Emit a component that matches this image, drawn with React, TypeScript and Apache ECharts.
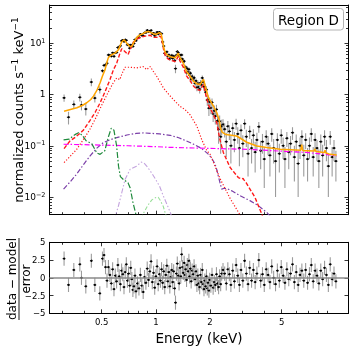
import React, { useEffect, useRef } from "react";
import * as echarts from "echarts";

// ---------- axis ticks ----------
const xMajorTicks = [0.5, 1, 2, 5];
const xMajorLabels = ["0.5", "1", "2", "5"];
const xMinorTicks = [0.3, 0.4, 0.6, 0.7, 0.8, 0.9, 3, 4, 6, 7, 8, 9];
const yMajorTicks = [0.01, 0.1, 1, 10];
const yMajorLabels = ["10{s|−2}", "10{s|−1}", "1", "10{s|1}"];
const yMinorTicks = [
  0.005, 0.006, 0.007, 0.008, 0.009, 0.02, 0.03, 0.04, 0.05, 0.06, 0.07, 0.08, 0.09,
  0.2, 0.3, 0.4, 0.5, 0.6, 0.7, 0.8, 0.9, 2, 3, 4, 5, 6, 7, 8, 9, 20, 30, 40, 50,
];
const residTicks = [-5, -2.5, 0, 2.5, 5];
const residLabels = ["−5", "−2.5", "0", "2.5", "5"];

// ---------- data: low energy ----------
const lowEnergy = [0.309, 0.327, 0.35, 0.378, 0.386, 0.408, 0.438, 0.458, 0.488, 0.505, 0.515];
const lowCounts = [0.86, 0.36, 0.64, 0.88, 0.62, 0.52, 1.75, 0.85, 1.25, 2.9, 3.7];
const lowErr = [0.14, 0.1, 0.12, 0.15, 0.13, 0.13, 0.3, 0.15, 0.2, 0.25, 0.3];
const lowResid = [2.7, -1.0, 1.1, 1.9, 0.0, -1.2, 2.4, -1.0, -2.2, 2.7, 3.2];

// ---------- data: line-rich band ----------
const midEnergy = [
  0.525, 0.535, 0.545, 0.555, 0.565, 0.575, 0.585, 0.595, 0.605, 0.615,
  0.625, 0.635, 0.645, 0.655, 0.665, 0.675, 0.685, 0.695, 0.705, 0.715,
  0.725, 0.735, 0.745, 0.755, 0.765, 0.775, 0.79, 0.805, 0.82, 0.835,
  0.85, 0.865, 0.88, 0.895, 0.91, 0.925, 0.94, 0.955, 0.97, 0.985,
  1.0, 1.015, 1.03, 1.045, 1.06, 1.075, 1.09, 1.105, 1.12, 1.135,
  1.15, 1.165, 1.18, 1.195, 1.21, 1.225, 1.24, 1.255, 1.27, 1.285,
  1.3, 1.315, 1.33, 1.345, 1.36, 1.375, 1.39, 1.405, 1.42, 1.435,
  1.45, 1.465, 1.48, 1.495, 1.51, 1.525, 1.54, 1.555, 1.57, 1.59,
  1.61, 1.63, 1.65, 1.67, 1.69, 1.71, 1.73, 1.75, 1.77, 1.79,
  1.81, 1.83, 1.85, 1.87, 1.89, 1.91, 1.93, 1.95, 1.97, 1.99,
  2.02, 2.05, 2.08, 2.11, 2.14, 2.17, 2.2, 2.23, 2.26, 2.29, 2.32,
];
const midCounts = [
  3.75, 4.06, 5.9, 5.85, 5.6, 6.5, 5.55, 6.5, 6.6, 8.25,
  8.4, 8.9, 11.1, 11.5, 10.8, 11.7, 11.4, 9.3, 9.3, 8.0,
  9.3, 8.7, 8.65, 9.9, 11.8, 11.2, 12.9, 13.05, 15.0, 14.3,
  14.0, 16.1, 16.1, 17.9, 16.8, 17.3, 17.85, 15.15, 15.8, 14.0,
  14.95, 16.4, 15.1, 16.5, 15.5, 15.4, 10.6, 8.8, 6.35, 6.5,
  6.8, 5.6, 5.95, 5.0, 5.45, 5.8, 5.05, 5.6, 4.6, 3.2,
  5.85, 6.9, 6.55, 5.65, 5.9, 5.0, 5.9, 4.9, 4.35, 4.45,
  3.45, 3.4, 2.7, 3.2, 2.8, 3.1, 2.38, 2.6, 2.0, 2.25,
  1.97, 2.12, 1.65, 1.84, 1.38, 1.65, 1.4, 1.27, 1.69, 1.56,
  2.1, 1.74, 1.42, 1.41, 1.11, 1.24, 0.78, 0.8, 0.54, 0.72,
  0.55, 0.7, 0.42, 0.48, 0.38, 0.51, 0.31, 0.21, 0.3, 0.15, 0.24,
];
const midErr = [
  0.3, 0.35, 0.38, 0.4, 0.4, 0.42, 0.4, 0.42, 0.43, 0.48,
  0.5, 0.55, 0.58, 0.6, 0.6, 0.6, 0.58, 0.55, 0.53, 0.52,
  0.52, 0.53, 0.56, 0.6, 0.62, 0.65, 0.68, 0.7, 0.72, 0.73,
  0.74, 0.76, 0.77, 0.78, 0.78, 0.77, 0.76, 0.75, 0.74, 0.73,
  0.73, 0.74, 0.75, 0.76, 0.75, 0.72, 0.62, 0.54, 0.5, 0.47,
  0.46, 0.45, 0.44, 0.43, 0.43, 0.42, 0.42, 0.42, 0.41, 0.6,
  0.43, 0.45, 0.46, 0.45, 0.43, 0.41, 0.4, 0.39, 0.38, 0.36,
  0.34, 0.32, 0.3, 0.3, 0.29, 0.28, 0.27, 0.27, 0.26, 0.25,
  0.24, 0.23, 0.23, 0.22, 0.22, 0.22, 0.22, 0.22, 0.22, 0.23,
  0.24, 0.25, 0.24, 0.22, 0.2, 0.19, 0.18, 0.17, 0.16, 0.15,
  0.14, 0.14, 0.13, 0.13, 0.12, 0.12, 0.11, 0.1, 0.09, 0.08, 0.08,
];
const midResid = [
  1.5, -0.4, 1.5, 0.4, -0.8, 1.2, -1.6, 0.3, -0.5, 1.8,
  0.2, -0.9, 1.0, 0.5, -1.3, 0.8, 1.9, -0.4, 0.6, -1.1,
  1.4, -0.2, -1.7, -1.2, 0.3, -1.9, -0.8, -1.5, 0.4, -1.1,
  -2.0, 0.1, -0.7, 1.3, -0.3, 0.9, 2.3, -0.6, 0.7, -1.4,
  0.2, 1.6, -0.9, 0.5, -0.4, 1.2, -0.7, 0.9, -1.3, 0.4,
  1.7, -0.5, 0.8, -1.2, 0.1, 1.1, -0.6, 0.9, -1.5, -3.5,
  0.6, 2.0, 0.3, -0.8, 1.4, 0.2, 3.3, 1.5, 0.7, 2.1,
  0.4, 1.2, -0.3, 1.8, 0.9, 2.4, 0.2, 1.3, -0.5, 1.0,
  0.5, 1.6, -0.2, 0.9, -1.0, 0.3, -0.8, -1.3, 0.4, -0.6,
  1.1, -0.9, -1.6, -0.4, -1.2, 0.2, -1.5, -0.7, -1.8, -0.3,
  -1.1, 0.4, -1.4, -0.6, -1.0, 0.5, -0.8, -1.3, 0.2, -0.9, 0.6,
];

// ---------- data: hard band ----------
const highEnergy = [
  2.36, 2.41, 2.46, 2.51, 2.56, 2.61, 2.67, 2.73, 2.79, 2.85,
  2.91, 2.97, 3.04, 3.11, 3.18, 3.25, 3.32, 3.4, 3.48, 3.56,
  3.64, 3.73, 3.82, 3.91, 4.0, 4.1, 4.2, 4.3, 4.4, 4.51,
  4.62, 4.73, 4.85, 4.97, 5.09, 5.21, 5.34, 5.47, 5.6, 5.74,
  5.88, 6.02, 6.17, 6.32, 6.47, 6.63, 6.79, 6.96, 7.13, 7.3,
  7.48, 7.66, 7.85, 8.04, 8.24, 8.44, 8.65, 8.86, 9.08, 9.3,
  9.53, 9.76, 10.0,
];
const highCounts = [
  0.26, 0.21, 0.12, 0.24, 0.19, 0.1, 0.22, 0.13, 0.27, 0.17,
  0.09, 0.2, 0.11, 0.27, 0.15, 0.07, 0.19, 0.09, 0.16, 0.075,
  0.13, 0.235, 0.08, 0.12, 0.055, 0.15, 0.11, 0.065, 0.17, 0.09,
  0.05, 0.13, 0.07, 0.16, 0.1, 0.055, 0.14, 0.075, 0.11, 0.18,
  0.06, 0.12, 0.045, 0.1, 0.15, 0.065, 0.13, 0.055, 0.1, 0.17,
  0.06, 0.13, 0.09, 0.05, 0.12, 0.065, 0.15, 0.09, 0.04, 0.15,
  0.06, 0.09, 0.05,
];
const highErr = [
  0.07, 0.065, 0.06, 0.065, 0.06, 0.055, 0.06, 0.055, 0.065, 0.06,
  0.05, 0.06, 0.05, 0.06, 0.055, 0.045, 0.055, 0.045, 0.05, 0.045,
  0.05, 0.055, 0.045, 0.05, 0.04, 0.05, 0.045, 0.04, 0.05, 0.045,
  0.04, 0.045, 0.04, 0.05, 0.045, 0.04, 0.045, 0.04, 0.045, 0.05,
  0.04, 0.045, 0.035, 0.045, 0.05, 0.04, 0.045, 0.035, 0.045, 0.05,
  0.035, 0.045, 0.04, 0.035, 0.045, 0.04, 0.05, 0.04, 0.03, 0.045,
  0.035, 0.04, 0.03,
];
const highResid = [
  1.1, 0.6, -0.8, 1.2, 0.5, -1.0, 1.0, -0.5, 1.8, 0.3,
  -1.0, 1.1, -0.4, 2.4, 0.6, -0.9, 1.4, -0.4, 1.1, -0.6,
  0.6, 2.5, -0.4, 0.5, -1.0, 1.2, 0.4, -0.6, 1.6, 0.0,
  -0.9, 1.0, -0.4, 1.5, 0.3, -0.7, 1.2, -0.2, 0.6, 1.9,
  -0.6, 0.8, -1.0, 0.4, 1.0, -0.4, 1.1, -0.7, 0.5, 1.8,
  -0.5, 1.0, 0.3, -0.8, 1.0, -0.2, 1.4, 0.4, -1.0, 1.9,
  -0.2, 0.6, -0.5,
];
const residErr = 1; // residuals are in units of sigma

// ---------- model components ----------
const totalE = [
  0.309, 0.335, 0.364, 0.39, 0.413, 0.435, 0.45, 0.47, 0.49, 0.505, 0.522, 0.535, 0.545, 0.565,
  0.593, 0.62, 0.645, 0.665, 0.69, 0.715, 0.735, 0.76, 0.79, 0.817, 0.85, 0.88, 0.91, 0.94, 0.97,
  1.0, 1.02, 1.045, 1.07, 1.09, 1.11, 1.13, 1.17, 1.22, 1.28, 1.305, 1.33, 1.36, 1.42, 1.48, 1.55,
  1.62, 1.7, 1.76, 1.81, 1.84, 1.88, 1.96, 2.09, 2.18, 2.25, 2.29, 2.33, 2.45, 2.81, 3.2, 3.63,
  4.13, 4.9, 6.0, 6.38, 6.46, 6.54, 7.5, 7.58, 7.65, 7.72, 8.5, 8.62, 8.7, 8.78, 9.27, 10.1,
];
const totalY = [
  0.47, 0.51, 0.55, 0.61, 0.69, 0.8, 0.93, 1.2, 1.69, 2.3, 3.06, 4.3, 5.3, 5.9,
  6.4, 7.5, 10.5, 11.7, 10.0, 8.6, 8.7, 11.0, 13.4, 14.6, 15.5, 16.6, 17.0, 16.1, 15.3,
  14.8, 15.4, 16.1, 15.2, 11.0, 7.8, 6.5, 5.7, 5.4, 5.2, 5.7, 6.4, 5.3, 4.1, 2.8, 2.27,
  1.8, 1.6, 1.56, 1.85, 1.96, 1.45, 0.86, 0.59, 0.44, 0.31, 0.22, 0.185, 0.165, 0.155, 0.117, 0.099,
  0.092, 0.0855, 0.083, 0.082, 0.105, 0.081, 0.079, 0.079, 0.087, 0.078, 0.074, 0.074, 0.082, 0.073, 0.068, 0.066,
];
const hotE = [
  0.309, 0.333, 0.36, 0.395, 0.43, 0.46, 0.49, 0.52, 0.556, 0.58, 0.606, 0.628, 0.646, 0.67, 0.7,
  0.725, 0.75, 0.8, 0.85, 0.89, 0.93, 0.97, 1.01, 1.04, 1.07, 1.09, 1.11, 1.13, 1.17, 1.22, 1.28,
  1.305, 1.33, 1.36, 1.42, 1.48, 1.55, 1.62, 1.7, 1.76, 1.81, 1.84, 1.88, 1.96, 2.09, 2.18, 2.27,
  2.37, 2.58, 2.87, 3.0, 3.05, 3.1, 3.17, 3.55, 3.87, 4.0,
];
const hotY = [
  0.088, 0.124, 0.15, 0.2, 0.31, 0.45, 0.69, 1.1, 1.96, 3.0, 4.1, 6.0, 7.8, 7.0, 6.0,
  8.0, 10.5, 12.5, 13.5, 14.0, 14.3, 13.0, 13.0, 14.0, 13.2, 9.5, 6.8, 5.6, 4.9, 4.6, 4.4,
  4.9, 5.5, 4.5, 3.4, 2.3, 1.85, 1.45, 1.25, 1.2, 1.45, 1.55, 1.1, 0.62, 0.4, 0.28, 0.13,
  0.074, 0.038, 0.024, 0.0225, 0.023, 0.021, 0.019, 0.0099, 0.0047, 0.0035,
];
const warmE = [
  0.309, 0.335, 0.363, 0.4, 0.43, 0.46, 0.5, 0.55, 0.58, 0.606, 0.63, 0.65, 0.674, 0.72, 0.78,
  0.85, 0.89, 0.93, 0.97, 1.01, 1.06, 1.1, 1.18, 1.25, 1.36, 1.45, 1.55, 1.69, 1.8, 1.92, 2.0,
  2.09, 2.27, 2.58, 2.93, 3.05,
];
const warmY = [
  0.047, 0.063, 0.085, 0.14, 0.21, 0.33, 0.62, 1.2, 1.7, 2.1, 1.95, 2.6, 3.4, 3.4, 3.3,
  3.5, 3.06, 3.5, 2.8, 2.27, 1.7, 1.35, 1.0, 0.8, 0.59, 0.51, 0.4, 0.24, 0.13, 0.08, 0.068,
  0.047, 0.023, 0.0095, 0.0045, 0.0035,
];
const bremE = [
  0.307, 0.335, 0.363, 0.4, 0.43, 0.47, 0.51, 0.56, 0.606, 0.69, 0.78, 0.86, 0.93, 1.05, 1.2,
  1.34, 1.48, 1.62, 1.76, 1.86, 1.96, 2.05, 2.13, 2.18, 2.22, 2.27, 2.32, 2.4, 2.48, 2.64, 2.93,
  3.33, 3.7, 4.13, 4.4,
];
const bremY = [
  0.0143, 0.02, 0.028, 0.045, 0.063, 0.09, 0.115, 0.132, 0.144, 0.162, 0.175, 0.178, 0.175, 0.17, 0.16,
  0.143, 0.124, 0.107, 0.092, 0.08, 0.068, 0.056, 0.044, 0.034, 0.026, 0.019, 0.0143, 0.0148, 0.0146, 0.0132, 0.0106,
  0.0085, 0.0068, 0.005, 0.0039,
];
const powE = [0.307, 0.5, 0.7, 1.0, 1.2, 1.5, 2.0, 2.5, 2.93, 3.5, 4.5, 5.5, 6.9, 8.0, 9.0, 10.1];
const powY = [0.107, 0.103, 0.1, 0.096, 0.093, 0.091, 0.089, 0.087, 0.086, 0.084, 0.08, 0.077, 0.074, 0.07, 0.067, 0.063];
const cxE = [
  0.307, 0.33, 0.355, 0.372, 0.39, 0.41, 0.44, 0.47, 0.49, 0.52, 0.545, 0.565, 0.585, 0.605,
  0.62, 0.635, 0.66, 0.7, 0.72, 0.745, 0.77, 0.79,
];
const cxY = [
  0.13, 0.135, 0.165, 0.18, 0.16, 0.125, 0.11, 0.072, 0.068, 0.08, 0.15, 0.22, 0.2, 0.1,
  0.04, 0.025, 0.022, 0.019, 0.015, 0.008, 0.005, 0.0035,
];
const feE = [0.59, 0.6, 0.62, 0.646, 0.674, 0.72, 0.78, 0.83, 0.86, 0.9, 0.95, 0.99, 1.05, 1.1, 1.16, 1.21, 1.23];
const feY = [0.0035, 0.0046, 0.0068, 0.012, 0.022, 0.035, 0.04, 0.048, 0.046, 0.038, 0.029, 0.023, 0.016, 0.0105, 0.0068, 0.0047, 0.0038];
const neE = [0.83, 0.85, 0.9, 0.95, 1.0, 1.03, 1.06, 1.1, 1.13, 1.15];
const neY = [0.0038, 0.0047, 0.0068, 0.0088, 0.0098, 0.0099, 0.0085, 0.0065, 0.0047, 0.0038];

// ---------- helpers ----------
const lg = (v: number) => Math.log10(v);
const X_MIN = -0.591;
const X_MAX = 1.07;
const Y_MIN = -2.345;
const Y_MAX = 1.746;
const FONT = "DejaVu Sans";

const energy = [...lowEnergy, ...midEnergy, ...highEnergy];
const counts = [...lowCounts, ...midCounts, ...highCounts];
const countErr = [...lowErr, ...midErr, ...highErr];
const resid = [...lowResid, ...midResid, ...highResid];

function nearest(v: number, ticks: number[], labels: string[], useLog: boolean) {
  let best = 0;
  let bd = Infinity;
  ticks.forEach((t, i) => {
    const d = Math.abs((useLog ? lg(t) : t) - v);
    if (d < bd) {
      bd = d;
      best = i;
    }
  });
  return labels[best];
}

const tickLine = { color: "#000", width: 0.8 };
const frameLine = { show: true, onZero: false, lineStyle: { color: "#000", width: 1 } };
const noLine = { show: false, onZero: false };

function xAxis(gridIndex: number, position: string, ticks: number[] | null, len: number, withLabels: boolean, showLine: boolean) {
  return {
    type: "value",
    gridIndex,
    position,
    min: X_MIN,
    max: X_MAX,
    axisLine: showLine ? frameLine : noLine,
    axisTick: ticks
      ? { show: true, inside: true, length: len, customValues: ticks.map(lg), lineStyle: tickLine }
      : { show: false },
    axisLabel: withLabels
      ? {
          show: true,
          customValues: xMajorTicks.map(lg),
          formatter: (v: number) => nearest(v, xMajorTicks, xMajorLabels, true),
          margin: 4,
          color: "#000",
          fontFamily: FONT,
          fontSize: 8.5,
        }
      : { show: false },
    splitLine: { show: false },
  };
}

function yAxisTop(position: string, ticks: number[], len: number, withLabels: boolean, showLine: boolean) {
  return {
    type: "value",
    gridIndex: 0,
    position,
    min: Y_MIN,
    max: Y_MAX,
    axisLine: showLine ? frameLine : noLine,
    axisTick: { show: true, inside: true, length: len, customValues: ticks.map(lg), lineStyle: tickLine },
    axisLabel: withLabels
      ? {
          show: true,
          customValues: yMajorTicks.map(lg),
          formatter: (v: number) => nearest(v, yMajorTicks, yMajorLabels, true),
          margin: 4,
          color: "#000",
          fontFamily: FONT,
          fontSize: 9,
          lineHeight: 12,
          rich: { s: { fontSize: 6.5, lineHeight: 7, verticalAlign: "top", fontFamily: FONT, color: "#000" } },
        }
      : { show: false },
    splitLine: { show: false },
  };
}

function yAxisRes(position: string, withLabels: boolean) {
  return {
    type: "value",
    gridIndex: 1,
    position,
    min: -5,
    max: 5,
    axisLine: frameLine,
    axisTick: { show: true, inside: true, length: 4, customValues: residTicks, lineStyle: tickLine },
    axisLabel: withLabels
      ? {
          show: true,
          customValues: residTicks,
          formatter: (v: number) => nearest(v, residTicks, residLabels, false),
          margin: 4,
          color: "#000",
          fontFamily: FONT,
          fontSize: 8.5,
        }
      : { show: false },
    splitLine: { show: false },
  };
}

function modelLine(xs: number[], ys: number[], color: string, width: number, dash: any) {
  return {
    type: "line",
    xAxisIndex: 0,
    yAxisIndex: 0,
    data: xs.map((e, i) => [lg(e), lg(ys[i])]),
    showSymbol: false,
    symbol: "none",
    silent: true,
    clip: true,
    lineStyle: { color, width, type: dash },
    z: 3,
  };
}

const clampTop = (v: number) => Math.min(Y_MAX, Math.max(Y_MIN, v));

function buildOption() {
  const specData = energy.map((e, i) => [lg(e), lg(counts[i]), counts[i] - countErr[i], counts[i] + countErr[i]]);
  const resData = energy.map((e, i) => [lg(e), resid[i], resid[i] - residErr, resid[i] + residErr]);

  return {
    animation: false,
    textStyle: { fontFamily: FONT },
    grid: [
      { left: 49.5, top: 5, width: 299, height: 209.7 },
      { left: 49.5, top: 242.3, width: 299, height: 71 },
    ],
    xAxis: [
      xAxis(0, "bottom", xMinorTicks, 2.5, false, true),
      xAxis(0, "bottom", xMajorTicks, 4, false, false),
      xAxis(0, "top", null, 0, false, true),
      xAxis(1, "bottom", xMinorTicks, 2.5, false, true),
      xAxis(1, "bottom", xMajorTicks, 4, true, false),
      xAxis(1, "top", xMinorTicks, 2.5, false, true),
      xAxis(1, "top", xMajorTicks, 4, false, false),
    ],
    yAxis: [
      yAxisTop("left", yMajorTicks, 4, true, true),
      yAxisTop("left", yMinorTicks, 2.5, false, false),
      yAxisTop("right", yMajorTicks, 4, false, true),
      yAxisTop("right", yMinorTicks, 2.5, false, false),
      yAxisRes("left", true),
      yAxisRes("right", false),
    ],
    graphic: [
      {
        type: "text",
        x: 18,
        y: 110,
        rotation: Math.PI / 2,
        style: {
          text: "normalized counts s{s|−1} keV{s|−1}",
          fontFamily: FONT,
          fontSize: 13,
          lineHeight: 16,
          fill: "#000",
          align: "center",
          verticalAlign: "middle",
          rich: { s: { fontSize: 9, lineHeight: 9, verticalAlign: "top", fontFamily: FONT, fill: "#000" } },
        },
      },
      {
        type: "group",
        x: 19,
        y: 279,
        rotation: Math.PI / 2,
        children: [
          {
            type: "text",
            x: 0,
            y: -1,
            style: { text: "data − model", fontFamily: FONT, fontSize: 12, fill: "#000", align: "center", verticalAlign: "bottom" },
          },
          { type: "line", shape: { x1: -41, y1: 0, x2: 41, y2: 0 }, style: { stroke: "#000", lineWidth: 0.9 } },
          {
            type: "text",
            x: 0,
            y: 1,
            style: { text: "error", fontFamily: FONT, fontSize: 12, fill: "#000", align: "center", verticalAlign: "top" },
          },
        ],
      },
      {
        type: "text",
        x: 199,
        y: 338,
        style: { text: "Energy (keV)", fontFamily: FONT, fontSize: 13.5, fill: "#000", align: "center", verticalAlign: "middle" },
      },
      {
        type: "rect",
        shape: { x: 273.5, y: 8.5, width: 70, height: 21.5, r: 3 },
        style: { fill: "#fff", stroke: "#b4b4b4", lineWidth: 1 },
        z: 10,
      },
      {
        type: "text",
        x: 308.5,
        y: 19.5,
        style: { text: "Region D", fontFamily: FONT, fontSize: 13.5, fill: "#000", align: "center", verticalAlign: "middle" },
        z: 11,
      },
    ],
    series: [
      {
        type: "custom",
        xAxisIndex: 0,
        yAxisIndex: 0,
        silent: true,
        encode: { x: 0, y: 1 },
        data: specData,
        z: 2,
        renderItem: (_p: any, api: any) => {
          const x = api.value(0);
          const y = api.value(1);
          const lo = api.value(2);
          const hi = api.value(3);
          const c = api.coord([x, y]);
          const cLo = api.coord([x, clampTop(lo > 0 ? lg(lo) : Y_MIN)]);
          const cHi = api.coord([x, clampTop(lg(hi))]);
          return {
            type: "group",
            children: [
              { type: "line", shape: { x1: c[0], y1: cLo[1], x2: c[0], y2: cHi[1] }, style: { stroke: "#9c9c9c", lineWidth: 1.1 } },
              { type: "line", shape: { x1: c[0] - 1.6, y1: c[1], x2: c[0] + 1.6, y2: c[1] }, style: { stroke: "#000", lineWidth: 0.9 } },
              { type: "circle", shape: { cx: c[0], cy: c[1], r: 1.0 }, style: { fill: "#000" } },
            ],
          };
        },
      },
      modelLine(bremE, bremY, "#7b3fa8", 1.2, [5, 2, 1.5, 2]),
      modelLine(powE, powY, "#ff00ff", 1.2, [5, 2, 1.5, 2]),
      modelLine(cxE, cxY, "#1f8a3c", 1.2, [6, 2, 1.5, 2]),
      modelLine(feE, feY, "#c3a3de", 1.1, [5, 2, 1.5, 2, 1.5, 2]),
      modelLine(neE, neY, "#98df98", 1.1, [4, 2, 1.5, 2]),
      modelLine(warmE, warmY, "#ff1a1a", 1.2, [1.2, 1.8]),
      modelLine(hotE, hotY, "#ff1a1a", 1.4, [4, 2]),
      modelLine(totalE, totalY, "#ffa500", 1.5, "solid"),
      {
        type: "custom",
        xAxisIndex: 3,
        yAxisIndex: 4,
        silent: true,
        encode: { x: 0, y: 1 },
        data: resData,
        z: 4,
        markLine: {
          silent: true,
          symbol: "none",
          label: { show: false },
          lineStyle: { color: "#8a8a8a", width: 1.5, type: "solid" },
          data: [{ yAxis: 0 }],
        },
        renderItem: (_p: any, api: any) => {
          const x = api.value(0);
          const y = api.value(1);
          const c = api.coord([x, y]);
          const cLo = api.coord([x, Math.max(-5, api.value(2))]);
          const cHi = api.coord([x, Math.min(5, api.value(3))]);
          return {
            type: "group",
            children: [
              { type: "line", shape: { x1: c[0], y1: cLo[1], x2: c[0], y2: cHi[1] }, style: { stroke: "#9c9c9c", lineWidth: 1.1 } },
              { type: "line", shape: { x1: c[0] - 1.4, y1: c[1], x2: c[0] + 1.4, y2: c[1] }, style: { stroke: "#000", lineWidth: 0.9 } },
              { type: "circle", shape: { cx: c[0], cy: c[1], r: 1.0 }, style: { fill: "#000" } },
            ],
          };
        },
      },
    ],
  };
}

export default function App() {
  const ref = useRef<HTMLDivElement>(null);
  useEffect(() => {
    if (!ref.current) return;
    const chart = echarts.init(ref.current, null, { renderer: "svg" });
    chart.setOption(buildOption() as any);
    return () => chart.dispose();
  }, []);
  return <div ref={ref} style={{ position: "fixed", left: 0, top: 0, width: 355, height: 351 }} />;
}
